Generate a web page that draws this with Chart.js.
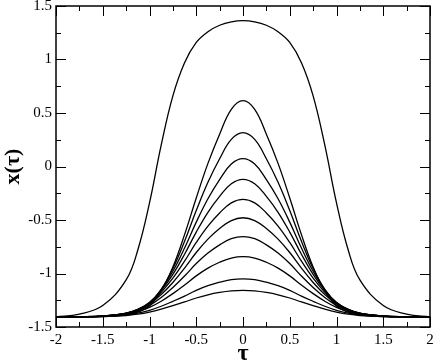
<!DOCTYPE html>
<html>
<head>
<meta charset="utf-8">
<script src="https://cdn.jsdelivr.net/npm/chart.js@4"></script>
<style>
  body { margin: 0; background: #fff; }
  #caixa { width: 436px; height: 363px; }
</style>
</head>
<body>
<div id="caixa"><canvas id="myChart"></canvas></div>
<script>
// valores de tau (eixo x)
const taus = [-2, -1.75, -1.5, -1.25, -1.125, -1, -0.875, -0.75, -0.625, -0.5, -0.375, -0.25, -0.125, 0,
    0.125, 0.25, 0.375, 0.5, 0.625, 0.75, 0.875, 1, 1.125, 1.25, 1.5, 1.75, 2];

// x(tau), da curva mais alta para a mais baixa
const trajetoriaAlta = [-1.405, -1.38, -1.30, -1.06, -0.78, -0.34, 0.20, 0.66, 0.97, 1.16, 1.26, 1.32, 1.352, 1.363,
    1.352, 1.32, 1.26, 1.16, 0.97, 0.66, 0.20, -0.34, -0.78, -1.06, -1.30, -1.38, -1.405];
const trajetoria1 = [-1.405, -1.405, -1.401, -1.385, -1.361, -1.304, -1.163, -0.94, -0.637, -0.294, 0.029, 0.302, 0.534, 0.615,
    0.534, 0.302, 0.029, -0.294, -0.637, -0.94, -1.163, -1.304, -1.361, -1.385, -1.401, -1.405, -1.405];
const trajetoria2 = [-1.405, -1.405, -1.399, -1.376, -1.345, -1.281, -1.149, -0.954, -0.699, -0.412, -0.148, 0.072, 0.253, 0.316,
    0.253, 0.072, -0.148, -0.412, -0.699, -0.954, -1.149, -1.281, -1.345, -1.376, -1.399, -1.405, -1.405];
const trajetoria3 = [-1.405, -1.404, -1.399, -1.372, -1.337, -1.272, -1.151, -0.979, -0.762, -0.52, -0.301, -0.122, 0.023, 0.073,
    0.023, -0.122, -0.301, -0.52, -0.762, -0.979, -1.151, -1.272, -1.337, -1.372, -1.399, -1.404, -1.405];
const trajetoria4 = [-1.405, -1.404, -1.398, -1.371, -1.336, -1.271, -1.16, -1.008, -0.82, -0.613, -0.428, -0.279, -0.161, -0.12,
    -0.161, -0.279, -0.428, -0.613, -0.82, -1.008, -1.16, -1.271, -1.336, -1.371, -1.398, -1.404, -1.405];
const trajetoria5 = [-1.405, -1.404, -1.398, -1.371, -1.336, -1.276, -1.176, -1.044, -0.885, -0.71, -0.557, -0.434, -0.34, -0.307,
    -0.34, -0.434, -0.557, -0.71, -0.885, -1.044, -1.176, -1.276, -1.336, -1.371, -1.398, -1.404, -1.405];
const trajetoria6 = [-1.405, -1.404, -1.399, -1.373, -1.34, -1.285, -1.197, -1.084, -0.95, -0.804, -0.679, -0.58, -0.505, -0.479,
    -0.505, -0.58, -0.679, -0.804, -0.95, -1.084, -1.197, -1.285, -1.34, -1.373, -1.399, -1.404, -1.405];
const trajetoria7 = [-1.405, -1.404, -1.399, -1.376, -1.347, -1.298, -1.224, -1.131, -1.024, -0.907, -0.809, -0.732, -0.675, -0.656,
    -0.675, -0.732, -0.809, -0.907, -1.024, -1.131, -1.224, -1.298, -1.347, -1.376, -1.399, -1.404, -1.405];
const trajetoria8 = [-1.405, -1.404, -1.40, -1.381, -1.357, -1.317, -1.259, -1.188, -1.108, -1.022, -0.95, -0.895, -0.856, -0.843,
    -0.856, -0.895, -0.95, -1.022, -1.108, -1.188, -1.259, -1.317, -1.357, -1.381, -1.40, -1.404, -1.405];
const trajetoria9 = [-1.405, -1.404, -1.402, -1.388, -1.371, -1.344, -1.306, -1.26, -1.211, -1.157, -1.114, -1.081, -1.058, -1.051,
    -1.058, -1.081, -1.114, -1.157, -1.211, -1.26, -1.306, -1.344, -1.371, -1.388, -1.402, -1.404, -1.405];
const trajetoria10 = [-1.405, -1.405, -1.403, -1.393, -1.38, -1.36, -1.333, -1.301, -1.266, -1.229, -1.199, -1.177, -1.162, -1.157,
    -1.162, -1.177, -1.199, -1.229, -1.266, -1.301, -1.333, -1.36, -1.38, -1.393, -1.403, -1.405, -1.405];

const trajetorias = [trajetoriaAlta, trajetoria1, trajetoria2, trajetoria3, trajetoria4, trajetoria5,
    trajetoria6, trajetoria7, trajetoria8, trajetoria9, trajetoria10];

const fonteSerif = `"Liberation Serif", "Times New Roman", serif`;

// moldura com ticks para dentro nos quatro lados
const molduraComTicks = {
    id: 'molduraComTicks',
    afterDatasetsDraw(chart) {
        const { ctx, chartArea: area, scales: { x, y } } = chart;
        ctx.save();
        ctx.strokeStyle = '#000';
        ctx.lineWidth = 1;
        ctx.beginPath();
        for (let i = 0; i <= 16; i++) {
            const v = x.min + i * 0.25;
            const px = Math.round(x.getPixelForValue(v)) + 0.5;
            const tam = i % 2 == 0 ? 10 : 5;
            ctx.moveTo(px, area.bottom); ctx.lineTo(px, area.bottom - tam);
            ctx.moveTo(px, area.top); ctx.lineTo(px, area.top + tam);
        }
        for (let i = 0; i <= 12; i++) {
            const v = y.min + i * 0.25;
            const py = Math.round(y.getPixelForValue(v)) + 0.5;
            const tam = i % 2 == 0 ? 10 : 5;
            ctx.moveTo(area.left, py); ctx.lineTo(area.left + tam, py);
            ctx.moveTo(area.right, py); ctx.lineTo(area.right - tam, py);
        }
        ctx.stroke();
        ctx.lineWidth = 1.5;
        ctx.strokeRect(area.left, area.top, area.right - area.left, area.bottom - area.top);
        ctx.restore();
    }
};

function criarGrafico(ctx) {
    const datasets = trajetorias.map((valores, i) => ({
        label: `x${i}`,
        data: valores.map((v, j) => ({ x: taus[j], y: v })),
        borderColor: '#000',
        borderWidth: 1.3,
        pointRadius: 0,
        tension: 0.4,
        fill: false
    }));

    return new Chart(ctx, {
        type: 'line',
        data: { datasets: datasets },
        plugins: [molduraComTicks],
        options: {
            responsive: true,
            maintainAspectRatio: false,
            animation: false,
            layout: { padding: { top: 6, right: 6, left: 0, bottom: 0 } },
            plugins: { legend: { display: false }, tooltip: { enabled: false } },
            scales: {
                x: {
                    type: 'linear',
                    min: -2,
                    max: 2,
                    afterFit: (escala) => { escala.height = 36; escala.paddingLeft = 0; escala.paddingRight = 0; },
                    grid: { display: false, drawTicks: false },
                    border: { display: false },
                    ticks: { stepSize: 0.5, padding: 4, color: '#000', font: { family: fonteSerif, size: 15 },
                        callback: (valor) => `${valor}` },
                    title: { display: true, text: 'τ', color: '#000', padding: 0,
                        font: { family: fonteSerif, size: 24, weight: 'bold', lineHeight: 0.75 } }
                },
                y: {
                    min: -1.5,
                    max: 1.5,
                    afterFit: (escala) => { escala.width = 56; escala.paddingTop = 0; escala.paddingBottom = 0; },
                    grid: { display: false, drawTicks: false },
                    border: { display: false },
                    ticks: { stepSize: 0.5, padding: 4, color: '#000', font: { family: fonteSerif, size: 15 },
                        callback: (valor) => `${valor}` },
                    title: { display: true, text: 'x(τ)', color: '#000', padding: 0,
                        font: { family: fonteSerif, size: 22, weight: 'bold' } }
                }
            }
        }
    });
}

criarGrafico(document.querySelector("#myChart"));
</script>
</body>
</html>
